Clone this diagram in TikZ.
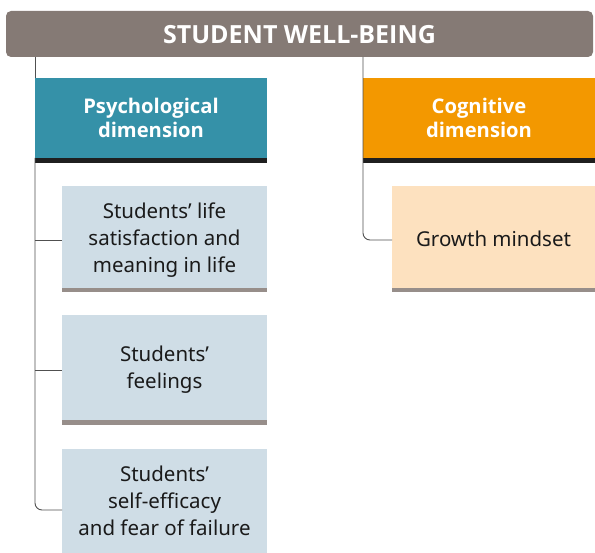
\documentclass[tikz,border=0pt]{standalone}
\usepackage{fontspec}
\setmainfont{Noto Sans}
\newfontfamily\hdfont{Open Sans}
\definecolor{hdrgray}{HTML}{857A75}
\definecolor{teal}{HTML}{3591A8}
\definecolor{orng}{HTML}{F39800}
\definecolor{lblue}{HTML}{CFDDE6}
\definecolor{peach}{HTML}{FDE1BF}
\definecolor{bargray}{HTML}{978E8A}
\definecolor{barblack}{HTML}{1F1F1F}
\definecolor{linegray}{HTML}{505050}
\definecolor{txt}{HTML}{1A1A1A}
% #1 = extra height on top (lowers the text by half of it)
\newcommand\mylines[2][0pt]{\raisebox{0pt}[\dimexpr\height+#1\relax][\depth]{\begin{tabular}{@{}c@{}}#2\end{tabular}}}
\begin{document}
\begin{tikzpicture}[x=1pt,y=-1pt,
  box/.style={anchor=north west,inner sep=0pt,outer sep=0pt,align=center},
  dimbox/.style={box,text=white,font=\fontsize{20.2}{24}\selectfont\hdfont\bfseries},
  itembox/.style={box,fill=lblue,text=txt,font=\fontsize{20.5}{27}\selectfont},
  conn/.style={draw=linegray,line width=0.9pt}]
\useasboundingbox (0,0) rectangle (595,553);
% header
\node[box,fill=hdrgray,rounded corners=5pt,minimum width=587pt,minimum height=46pt,
  text=white,font=\fontsize{25}{27}\selectfont\hdfont\bfseries] (hdr) at (6,11) {\mylines[8pt]{STUDENT WELL-BEING}};
% dimension boxes
\node[dimbox,fill=teal,minimum width=232pt,minimum height=80pt] (psy) at (35,78) {Psychological\\dimension};
\node[dimbox,fill=orng,minimum width=232pt,minimum height=80pt] (cog) at (363,78) {Cognitive\\dimension};
\fill[barblack] (psy.south west) rectangle ([yshift=-5pt]psy.south east);
\fill[barblack] (cog.south west) rectangle ([yshift=-5pt]cog.south east);
% items
\node[itembox,minimum width=205pt,minimum height=102pt] (b1) at (62,186) {\mylines[6pt]{Students’ life\\satisfaction and\\meaning in life}};
\node[itembox,minimum width=205pt,minimum height=105pt] (b2) at (62,315) {\mylines[4pt]{Students’\\feelings}};
\node[itembox,minimum width=205pt,minimum height=108pt] (b3) at (62,449) {\mylines{Students’\\self-efficacy\\and fear of failure}};
\node[itembox,fill=peach,minimum width=203pt,minimum height=102pt] (gm) at (392,186) {\mylines[9pt]{Growth mindset}};
\fill[bargray] (b1.south west) rectangle ([yshift=-4pt]b1.south east);
\fill[bargray] (b2.south west) rectangle ([yshift=-5pt]b2.south east);
\fill[bargray] (gm.south west) rectangle ([yshift=-4pt]gm.south east);
% connectors
\coordinate (c1) at ([yshift=-3pt]b1.west);
\coordinate (c2) at ([yshift=-3pt]b2.west);
\coordinate (c3) at ([yshift=-7pt]b3.west);
\coordinate (cg) at ([yshift=-3pt]gm.west);
\draw[conn] (hdr.south -| psy.west) -- (psy.north west);
\draw[conn,rounded corners=7pt] (psy.south west) |- (c3);
\draw[conn] (psy.west |- c1) -- (c1);
\draw[conn] (psy.west |- c2) -- (c2);
\draw[conn,rounded corners=7pt] (hdr.south -| cog.west) |- (cg);
\end{tikzpicture}
\end{document}
